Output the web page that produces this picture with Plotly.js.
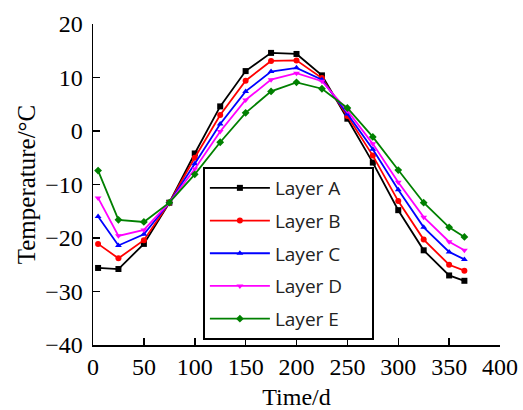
<!DOCTYPE html>
<html>
<head>
<meta charset="utf-8">
<script src="https://cdn.plot.ly/plotly-3.0.1.min.js"></script>
<style>html,body{margin:0;padding:0;background:#fff;}#chart{width:523px;height:410px;}</style>
</head>
<body>
<div id="chart"></div>
<script>
const days = [5, 25, 50, 75, 100, 125, 150, 175, 200, 225, 250, 275, 300, 325, 350, 365];
const layerA = [-25.6, -25.8, -21.1, -13.4, -4.2, 4.6, 11.2, 14.6, 14.4, 10.4, 2.3, -5.9, -14.8, -22.3, -27.0, -28.0];
const layerB = [-21.1, -23.8, -20.4, -13.4, -5.0, 3.0, 9.4, 13.1, 13.2, 9.9, 2.8, -4.6, -13.1, -20.3, -25.0, -26.1];
const layerC = [-16.0, -21.4, -19.3, -13.4, -6.1, 1.3, 7.4, 11.1, 11.8, 9.6, 3.2, -3.4, -11.0, -18.0, -22.6, -24.0];
const layerD = [-12.5, -19.6, -18.5, -13.4, -7.1, -0.1, 5.8, 9.6, 10.8, 9.3, 3.8, -2.4, -9.6, -16.1, -20.7, -22.3];
const layerE = [-7.4, -16.6, -17.0, -13.4, -8.1, -2.1, 3.4, 7.4, 9.1, 7.9, 4.3, -1.1, -7.3, -13.4, -18.0, -19.8];
const seriesNames = ['Layer A', 'Layer B', 'Layer C', 'Layer D', 'Layer E'];
const xTicks = [0, 50, 100, 150, 200, 250, 300, 350, 400];
const yTicks = [-40, -30, -20, -10, 0, 10, 20];

const seriesData = [layerA, layerB, layerC, layerD, layerE];
const colors = ['#000000', '#ff0000', '#0000ff', '#ff00ff', '#008000'];
const symbols = ['square', 'circle', 'triangle-up', 'triangle-down', 'diamond'];
const pad = '\u00a0\u00a0\u00a0\u00a0\u00a0';

const traces = seriesData.map((ys, i) => ({
  x: days, y: ys, name: seriesNames[i] + pad, type: 'scatter', mode: 'lines+markers',
  legendgroup: 'g' + i,
  line: {color: colors[i], width: 1.8},
  marker: {color: colors[i], symbol: symbols[i], size: 6}
}));

const serif = 'Liberation Serif, Times New Roman, serif';
const layout = {
  width: 523, height: 410,
  margin: {l: 93, r: 23, t: 24, b: 65},
  paper_bgcolor: '#fff', plot_bgcolor: '#fff',
  showlegend: true,
  legend: {
    x: 0.27, y: 0.5545, xanchor: 'left', yanchor: 'top',
    bordercolor: '#000', borderwidth: 2, bgcolor: '#fff',
    font: {family: 'Open Sans, sans-serif', size: 19, color: '#222'},
    tracegroupgap: 5, itemwidth: 60
  },
  xaxis: {
    range: [0, 400], tickvals: xTicks, ticktext: xTicks.map(String),
    showline: true, linecolor: '#000', linewidth: 1.5, mirror: false,
    ticks: 'inside', ticklen: 7, tickwidth: 1.5, tickcolor: '#000',
    showgrid: false, zeroline: false,
    tickfont: {family: serif, size: 24, color: '#000'},
    title: {text: 'Time/d', font: {family: serif, size: 24, color: '#000'}, standoff: 15}
  },
  yaxis: {
    range: [-40, 20], tickvals: yTicks, ticktext: yTicks.map(v => v < 0 ? '\u2212' + Math.abs(v) : String(v)),
    showline: true, linecolor: '#000', linewidth: 1.5, mirror: false,
    ticks: 'inside', ticklen: 7, tickwidth: 1.5, tickcolor: '#000',
    showgrid: false, zeroline: false, ticklabelstandoff: 4,
    tickfont: {family: serif, size: 24, color: '#000'},
    title: {text: 'Temperature/°C', font: {family: serif, size: 25, color: '#000'}, standoff: 2}
  }
};

Plotly.newPlot('chart', traces, layout, {displayModeBar: false, staticPlot: true});
</script>
</body>
</html>
